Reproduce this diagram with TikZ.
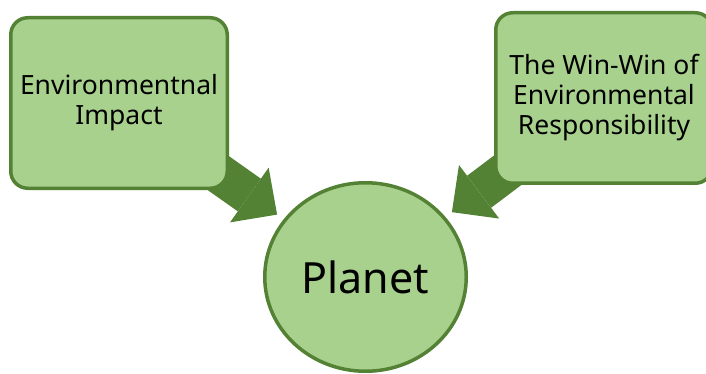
\documentclass[tikz,border=0pt]{standalone}
\usepackage{fontspec}
\setmainfont{Noto Sans}
\usetikzlibrary{arrows.meta,shapes.geometric,backgrounds}

\definecolor{leaf}{HTML}{A9D18E}
\definecolor{moss}{HTML}{548235}

\tikzset{
	box/.style={draw=moss, fill=leaf, line width=3.5pt, rounded corners=17pt,
		minimum width=216.5pt, minimum height=170.5pt, inner sep=0pt,
		align=center, font=\fontsize{26.5}{30}\selectfont},
	globe/.style={ellipse, draw=moss, fill=leaf, line width=3.5pt,
		minimum width=201.5pt, minimum height=188.5pt, inner sep=0pt,
		font=\fontsize{43}{48}\selectfont},
	fat/.style={moss, line width=40pt, shorten >=8pt,
		-{Triangle[length=34pt,width=67pt,line width=0pt]}}
}

\begin{document}
\begin{tikzpicture}[x=1pt,y=-1pt]
	\useasboundingbox (0,0) rectangle (706,374);
	\clip (0,0) rectangle (706,374);
	
	\node[box] (env) at (119,103) {Environmentnal\\Impact};
	\node[box] (win) at (604,98) {The Win-Win of\\Environmental\\Responsibility};
	\node[globe] (planet) at (365.5,277) {Planet};
	
	\begin{scope}[on background layer]
		\path [fat]
		(env.center) edge (planet)
		(win.center) edge (planet);
	\end{scope}
\end{tikzpicture}
\end{document}
